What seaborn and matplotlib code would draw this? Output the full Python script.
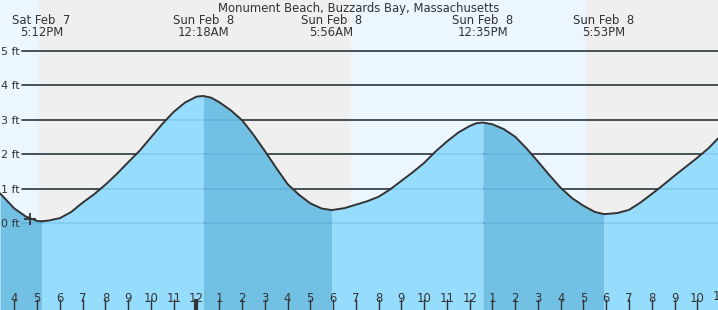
import matplotlib
matplotlib.use("Agg")
import matplotlib.pyplot as plt
import matplotlib.transforms as mtransforms
import seaborn as sns
import pandas as pd

# ---- data (hours since Sat Feb 7, 00:00), heights in ft ----
read_times = [15.37, 15.7, 16, 16.5, 17, 17.5, 18, 18.5, 19, 19.5, 20, 20.5, 21, 21.5,
              22, 22.5, 23, 23.5, 24, 24.65, 25, 25.5, 26, 26.5, 27, 27.5, 28, 28.5,
              29, 29.5, 30, 30.5, 31, 31.5, 32, 32.5, 33, 33.5, 34, 34.5, 35, 35.5,
              36, 36.3, 37, 37.5, 38, 38.5, 39, 39.5, 40, 40.5, 41, 41.5, 42, 42.5,
              43, 43.5, 44, 44.5, 45, 45.5, 46, 46.5, 46.91]
read_heights = [0.87, 0.64, 0.43, 0.20, 0.07, 0.08, 0.15, 0.33, 0.60, 0.84, 1.12, 1.43,
                1.77, 2.10, 2.49, 2.88, 3.23, 3.50, 3.67, 3.64, 3.51, 3.28, 2.99, 2.57,
                2.10, 1.61, 1.14, 0.83, 0.58, 0.43, 0.39, 0.44, 0.54, 0.64, 0.77, 0.98,
                1.23, 1.48, 1.75, 2.08, 2.37, 2.63, 2.82, 2.90, 2.87, 2.73, 2.51, 2.17,
                1.79, 1.40, 1.03, 0.73, 0.51, 0.33, 0.27, 0.30, 0.39, 0.60, 0.85, 1.11,
                1.38, 1.64, 1.90, 2.18, 2.46]
extreme_times = [17.2, 24.3, 29.933, 36.583, 41.883]
extreme_heights = [0.06, 3.69, 0.385, 2.92, 0.27]
extreme_days = ["Sat Feb  7", "Sun Feb  8", "Sun Feb  8", "Sun Feb  8", "Sun Feb  8"]
extreme_clock = ["5:12PM", "12:18AM", "5:56AM", "12:35PM", "5:53PM"]
sunsets = [17.08, 41.10]
sunrises = [30.78]
now_time = 16.69
now_height = 0.12
tick_hours = list(range(16, 47))
tick_labels = [str((h - 1) % 12 + 1) for h in tick_hours]
ft_levels = [0, 1, 2, 3, 4, 5]
ft_labels = [f"{v} ft" for v in ft_levels]
title = "Monument Beach, Buzzards Bay, Massachusetts"

x_min, x_max = 15.37, 46.91
y_min, y_max = -2.51, 6.47

# ---- style ----
sns.set_theme(style="white")
plt.rcParams["font.family"] = ["DejaVu Sans"]

DAY = "#ebf6ff"
NIGHT = "#efefef"
RISE = "#96dcfc"
FALL = "#72c1e5"
INK = "#333333"
FS = 8.4

df = pd.DataFrame({"t": read_times + extreme_times,
                   "h": read_heights + extreme_heights}).sort_values("t").reset_index(drop=True)

fig = plt.figure(figsize=(7.18, 3.10), dpi=100)
ax = fig.add_axes([0, 0, 1, 1])
ax.set_xlim(x_min, x_max)
ax.set_ylim(y_min, y_max)
ax.set_facecolor(DAY)
for s in ax.spines.values():
    s.set_visible(False)

# night shading
ax.axvspan(sunsets[0], sunrises[0], color=NIGHT, zorder=0, lw=0)
ax.axvspan(sunsets[1], x_max + 1, color=NIGHT, zorder=0, lw=0)

# grid lines (under water)
for v in ft_levels:
    ax.axhline(v, xmin=22 / 718, xmax=1, color=INK, lw=1.2, zorder=1)

# water fill, segmented rising / falling
bounds = [x_min] + extreme_times + [x_max]
for i in range(len(bounds) - 1):
    a, b = bounds[i], bounds[i + 1]
    seg = df[(df.t >= a) & (df.t <= b)]
    rising = (i % 2 == 1)
    ax.fill_between(seg.t, seg.h, y_min, color=RISE if rising else FALL, lw=0, zorder=2)

# faint grid lines over water
for v in ft_levels:
    ax.axhline(v, xmin=22 / 718, xmax=1, color="#1a6e9a", alpha=0.15, lw=1.2, zorder=3)

sns.lineplot(data=df, x="t", y="h", ax=ax, color=INK, lw=1.4, zorder=4, sort=True)
ax.plot([now_time], [now_height], marker="+", ms=8, mew=1.3, color=INK, zorder=5)

# x ticks
ax.set_xticks(tick_hours)
ax.set_xticklabels(tick_labels)
ax.tick_params(axis="x", direction="in", length=8, width=1, color=INK,
               labelsize=FS, labelcolor=INK, pad=-13, bottom=True)
mid_idx = tick_hours.index(24)
ax.xaxis.get_major_ticks()[mid_idx].tick1line.set_markeredgewidth(3)
ax.set_xlabel("")

# y ticks as labels inside
ax.set_yticks(ft_levels)
ax.set_yticklabels(ft_labels)
ax.tick_params(axis="y", direction="in", length=0, labelsize=8.0, labelcolor=INK, pad=-1)
for lbl in ax.get_yticklabels():
    lbl.set_horizontalalignment("left")
ax.set_ylabel("")
ax.xaxis.set_zorder(6)
ax.yaxis.set_zorder(6)

tr = mtransforms.blended_transform_factory(ax.transData, ax.transAxes)
ax.text(47, 10 / 310, "11", transform=tr, ha="center", va="baseline",
        fontsize=FS, color=INK, clip_on=False, zorder=6)

# header texts
ax.text(0.5, 1 - 11.7 / 310, title, transform=ax.transAxes, ha="center", va="baseline",
        fontsize=FS, color=INK)
for t, d, c in zip(extreme_times, extreme_days, extreme_clock):
    ax.text(t, 1 - 24.3 / 310, d, transform=tr, ha="center", va="baseline", fontsize=FS, color=INK)
    ax.text(t, 1 - 36 / 310, c, transform=tr, ha="center", va="baseline", fontsize=FS, color=INK)

fig.savefig("out.png", dpi=100)
